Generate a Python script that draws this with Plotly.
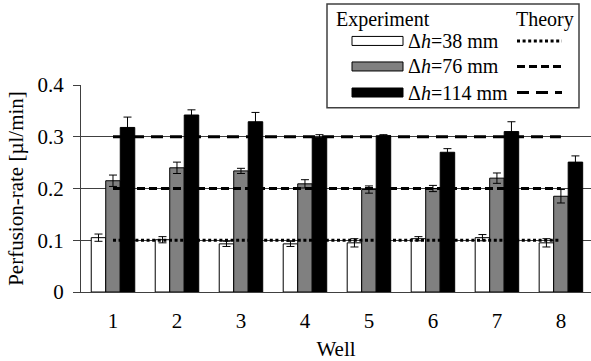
import plotly.graph_objects as go

wells = [1, 2, 3, 4, 5, 6, 7, 8]
tick_labels = ["1", "2", "3", "4", "5", "6", "7", "8"]

exp_38 = [0.105, 0.101, 0.093, 0.093, 0.095, 0.103, 0.105, 0.095]
err_38 = [0.007, 0.006, 0.005, 0.005, 0.008, 0.004, 0.006, 0.008]
exp_76 = [0.215, 0.240, 0.234, 0.209, 0.198, 0.200, 0.220, 0.185]
err_76 = [0.011, 0.011, 0.005, 0.008, 0.007, 0.006, 0.010, 0.013]
exp_114 = [0.318, 0.342, 0.329, 0.299, 0.302, 0.270, 0.310, 0.251]
err_114 = [0.020, 0.010, 0.018, 0.005, 0.002, 0.007, 0.019, 0.012]

theory_38 = [0.1] * 8
theory_76 = [0.2] * 8
theory_114 = [0.3] * 8

series_names = ["Δ<i>h</i>=38 mm", "Δ<i>h</i>=76 mm", "Δ<i>h</i>=114 mm"]
y_ticks = [0, 0.1, 0.2, 0.3, 0.4]
y_tick_text = ["0", "0.1", "0.2", "0.3", "0.4"]

FONT = "Liberation Serif"
fills = ["#ffffff", "#808080", "#000000"]
dashes = ["3px,2.6px", "8px,4px", "12px,7px"]

fig = go.Figure()
for vals, errs, fill, name in zip([exp_38, exp_76, exp_114], [err_38, err_76, err_114], fills, series_names):
    fig.add_trace(go.Bar(
        x=wells, y=vals, name=name,
        marker=dict(color=fill, line=dict(color="#000000", width=1)),
        error_y=dict(type="data", array=errs, visible=True, color="#000000", thickness=1, width=4),
        showlegend=False,
    ))

for vals, dash in zip([theory_38, theory_76, theory_114], dashes):
    fig.add_trace(go.Scatter(
        x=wells, y=vals, mode="lines",
        line=dict(color="#000000", width=3, dash=dash),
        showlegend=False, hoverinfo="skip",
    ))

# plot area in pixels
L, R, T, B = 81, 591, 85, 291.7
W, H = 591, 361


def px(x):
    return (x - L) / (R - L)


def py(y):
    return (B - y) / (B - T)


shapes = []
annotations = []
# legend box
shapes.append(dict(type="rect", xref="paper", yref="paper", layer="above",
                   x0=px(327), x1=px(579), y0=py(107.7), y1=py(4),
                   fillcolor="#ffffff", line=dict(color="#404040", width=1.5)))
annotations.append(dict(xref="paper", yref="paper", x=px(334), y=py(20), text="Experiment",
                        showarrow=False, xanchor="left", yanchor="middle",
                        font=dict(family=FONT, size=20, color="#000000")))
annotations.append(dict(xref="paper", yref="paper", x=px(514), y=py(20), text="Theory",
                        showarrow=False, xanchor="left", yanchor="middle",
                        font=dict(family=FONT, size=20, color="#000000")))
row_y = [41, 66.5, 92.5]
for ry, fill, name, dash in zip(row_y, fills, series_names, dashes):
    shapes.append(dict(type="rect", xref="paper", yref="paper", layer="above",
                       x0=px(352), x1=px(403), y0=py(ry + 4.5), y1=py(ry - 4.5),
                       fillcolor=fill, line=dict(color="#000000", width=1)))
    annotations.append(dict(xref="paper", yref="paper", x=px(406), y=py(ry), text=name,
                            showarrow=False, xanchor="left", yanchor="middle",
                            font=dict(family=FONT, size=20, color="#000000")))
    shapes.append(dict(type="line", xref="paper", yref="paper", layer="above",
                       x0=px(517), x1=px(562), y0=py(ry), y1=py(ry),
                       line=dict(color="#000000", width=3, dash=dash)))

fig.update_layout(
    template="none",
    width=W, height=H,
    margin=dict(l=L, r=W - R, t=T, b=H - B, pad=0, autoexpand=False),
    paper_bgcolor="#ffffff", plot_bgcolor="#ffffff",
    barmode="group", bargap=0.32, bargroupgap=0,
    font=dict(family=FONT, size=21, color="#000000"),
    shapes=shapes, annotations=annotations,
    showlegend=False,
    xaxis=dict(
        automargin=False,
        range=[0.5, 8.47], tickmode="array", tickvals=wells, ticktext=tick_labels,
        showgrid=False, zeroline=False, showline=True, linecolor="#404040", linewidth=1,
        ticks="", ticklen=0, ticklabelstandoff=10,
        tickfont=dict(family=FONT, size=21, color="#000000"),
        title=dict(text="Well", font=dict(family=FONT, size=21, color="#000000"), standoff=12),
    ),
    yaxis=dict(
        automargin=False,
        range=[0, 0.4], tickmode="array", tickvals=y_ticks, ticktext=y_tick_text,
        showgrid=True, gridcolor="#404040", gridwidth=1, zeroline=False,
        showline=True, linecolor="#404040", linewidth=1,
        ticks="outside", ticklen=7, tickcolor="#404040", ticklabelstandoff=5,
        tickfont=dict(family=FONT, size=21, color="#000000"),
        title=dict(text="Perfusion-rate [µl/min]", font=dict(family=FONT, size=21, color="#000000"), standoff=8),
    ),
)

fig.write_html("out.html", config={"displayModeBar": False},
               post_script="document.body.style.margin='0px';")
